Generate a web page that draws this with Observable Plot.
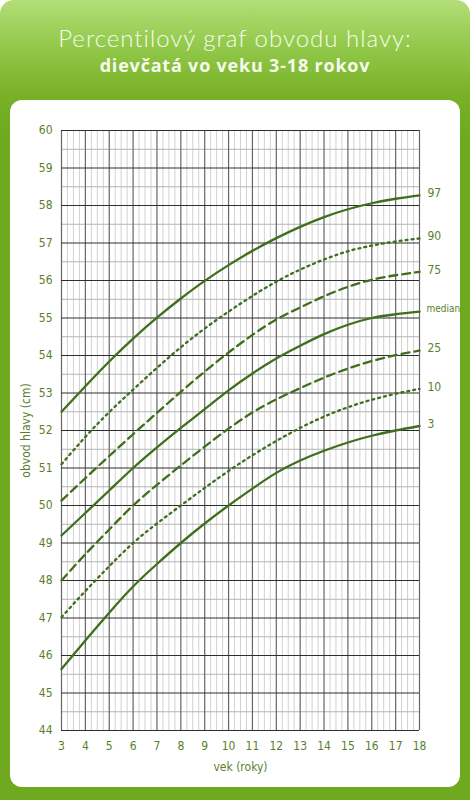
<!DOCTYPE html>
<html><head><meta charset="utf-8">
<script src="https://cdn.jsdelivr.net/npm/d3@7"></script>
<script src="https://cdn.jsdelivr.net/npm/@observablehq/plot@0.6"></script>
<style>
html,body{margin:0;padding:0;background:#fff;}
#wrap{position:relative;width:470px;height:800px;overflow:hidden;
  background:linear-gradient(180deg,#b3de78 0px,#93c94c 45px,#78b126 95px,#6ea920 140px,#6ea920 800px);
  border-radius:14px 14px 0 0;}
#title{position:absolute;top:23px;left:0;width:470px;text-align:center;color:#f6fbee;
  font-family:Lato,"Open Sans",sans-serif;font-weight:300;font-size:24px;letter-spacing:1px;line-height:29px;}
#sub{position:absolute;top:53px;left:0;width:470px;text-align:center;color:#f6fbee;
  font-family:"Open Sans",Lato,sans-serif;font-weight:700;font-size:18px;letter-spacing:0.8px;line-height:25px;}
#panel{position:absolute;left:10px;top:100px;width:450px;height:687px;background:#fff;border-radius:12px;overflow:visible;}
</style>
</head><body>
<div id="wrap">
  <div id="title">Percentilový graf obvodu hlavy:</div>
  <div id="sub">dievčatá vo veku 3-18 rokov</div>
  <div id="panel"></div>
</div>
<script>
const ages = [3,4,5,6,7,8,9,10,11,12,13,14,15,16,17,18];
const p97 = [52.5,53.18,53.84,54.45,55.01,55.52,55.99,56.41,56.79,57.13,57.43,57.69,57.9,58.06,58.18,58.27];
const p90 = [51.1,51.83,52.49,53.09,53.67,54.22,54.72,55.17,55.59,55.97,56.29,56.56,56.78,56.93,57.04,57.12];
const p75 = [50.13,50.73,51.32,51.9,52.47,53.03,53.57,54.08,54.55,54.96,55.28,55.58,55.83,56.02,56.14,56.23];
const p50 = [49.2,49.8,50.4,51.0,51.55,52.07,52.57,53.07,53.52,53.92,54.26,54.57,54.82,55.0,55.1,55.17];
const p25 = [48.0,48.7,49.36,50.0,50.55,51.07,51.57,52.05,52.48,52.83,53.13,53.41,53.65,53.85,54.01,54.13];
const p10 = [47.02,47.72,48.38,49.0,49.52,50.0,50.47,50.92,51.34,51.72,52.07,52.37,52.62,52.82,52.98,53.11];
const p3  = [45.64,46.4,47.14,47.84,48.44,49.0,49.52,50.0,50.45,50.87,51.2,51.46,51.68,51.86,52.0,52.12];
const seriesNames = ["97","90","75","median","25","10","3"];
const seriesValues = [p97,p90,p75,p50,p25,p10,p3];
const seriesKind = ["solid","dotted","dashed","solid","dashed","dotted","solid"];
const xTicks = [3,4,5,6,7,8,9,10,11,12,13,14,15,16,17,18];
const yTicks = [44,45,46,47,48,49,50,51,52,53,54,55,56,57,58,59,60];

const dash = {solid: null, dotted: "2,4", dashed: "8,5"};
const green = "#3f6f1d";
const quarters = d3.range(3, 18.001, 0.25).filter(d => d % 1 !== 0);
const halves = d3.range(44.5, 60, 1);

const lineMarks = seriesNames.map((name, i) => {
  const rows = ages.map((a, j) => ({age: a, v: seriesValues[i][j]}));
  return Plot.line(rows, {x: "age", y: "v", curve: "natural", stroke: green, strokeWidth: 2.3,
    strokeDasharray: dash[seriesKind[i]]});
});
const endRows = seriesNames.map((name, i) => ({name, age: ages[ages.length-1], v: seriesValues[i][ages.length-1]}));

const chart = Plot.plot({
  width: 450, height: 687,
  marginLeft: 51, marginRight: 41, marginTop: 30, marginBottom: 57,
  x: {domain: [3, 18]},
  y: {domain: [44, 60]},
  style: {fontFamily: "'DejaVu Sans',sans-serif", fontSize: "12px", color: "#5a7f2c", background: "transparent", overflow: "visible", fontStretch: "condensed"},
  marks: [
    Plot.ruleX(quarters, {stroke: "#d2d2d2", strokeWidth: 1}),
    Plot.ruleY(halves, {stroke: "#b4b4b4", strokeWidth: 1}),
    Plot.ruleX(xTicks, {stroke: "#666", strokeWidth: 1.2}),
    Plot.ruleY(yTicks, {stroke: "#2e2e2e", strokeWidth: 1}),
    ...lineMarks,
    Plot.text(endRows.filter(d => d.name !== "median"), {x: "age", y: "v", text: "name", dx: 8, dy: -2, textAnchor: "start", fill: "#5a7f2c", fontSize: 12}),
    Plot.text(endRows.filter(d => d.name === "median"), {x: "age", y: "v", text: "name", dx: 7, dy: -3, textAnchor: "start", fill: "#5a7f2c", fontSize: 10, letterSpacing: "-0.4px"}),
    Plot.axisX({ticks: xTicks, tickSize: 0, tickPadding: 11, tickFormat: d => d, label: "vek (roky)", labelAnchor: "center", labelArrow: "none", labelOffset: 40, fontSize: 12}),
    Plot.axisY({ticks: yTicks, tickSize: 0, tickPadding: 9, tickFormat: d => d, label: "obvod hlavy (cm)", labelAnchor: "center", labelArrow: "none", labelOffset: 40, fontSize: 12})
  ]
});
document.getElementById("panel").appendChild(chart);
</script>
</body></html>
